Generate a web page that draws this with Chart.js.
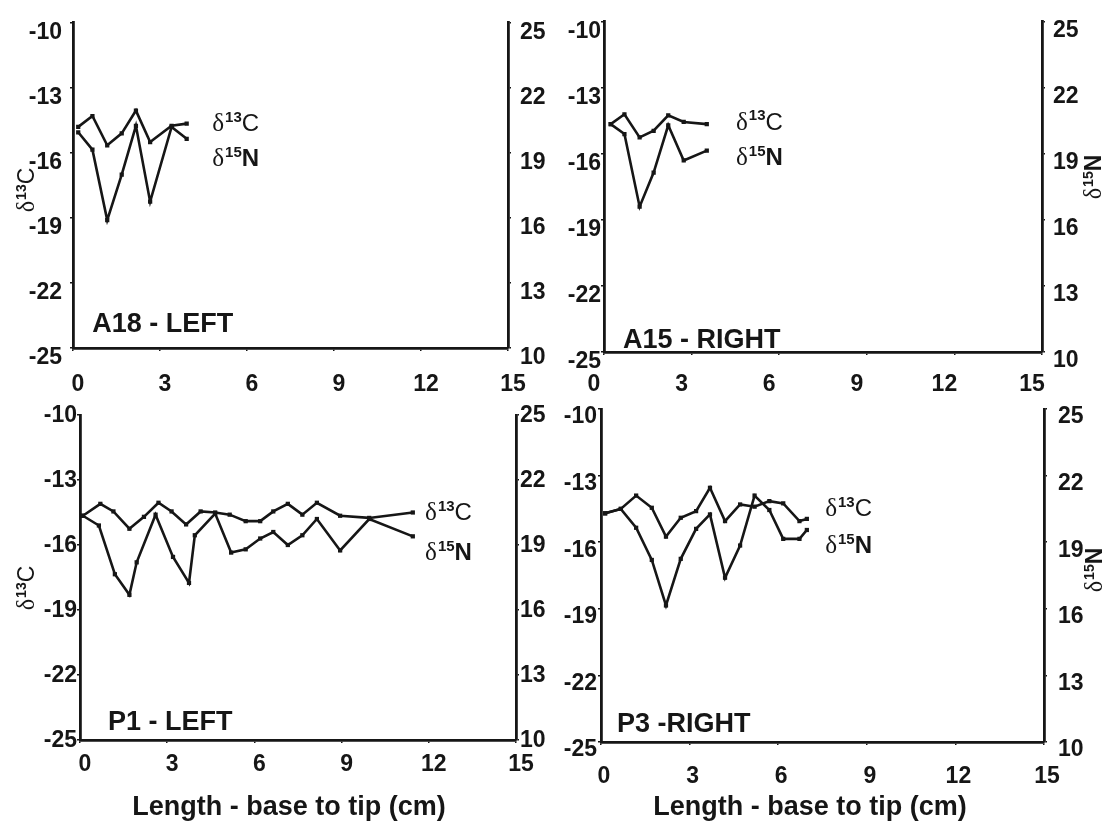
<!DOCTYPE html>
<html>
<head>
<meta charset="utf-8">
<script src="https://cdn.jsdelivr.net/npm/chart.js@4.4.0/dist/chart.umd.min.js"></script>
<style>
  html, body { margin: 0; padding: 0; background: #fff; }
  #wrap { position: relative; width: 1112px; height: 827px; overflow: hidden; }
  #wrap canvas { position: absolute; left: 0; top: 0; }
</style>
</head>
<body>
<div id="wrap">
  <canvas id="a18" width="1112" height="827"></canvas>
  <canvas id="a15" width="1112" height="827"></canvas>
  <canvas id="p1" width="1112" height="827"></canvas>
  <canvas id="p3" width="1112" height="827"></canvas>
</div>
<script>
// axis ticks
const xTicks = [0, 3, 6, 9, 12, 15];
const c13Ticks = [-25, -22, -19, -16, -13, -10];
const n15Ticks = [10, 13, 16, 19, 22, 25];

// A18 - LEFT
const a18X = [0.18, 0.67, 1.18, 1.68, 2.17, 2.66, 3.4, 3.92];
const a18C = [-14.8, -14.3, -15.65, -15.1, -14.05, -15.5, -14.75, -14.65];
const a18N = [19.95, 19.15, 15.9, 18.0, 20.25, 16.75, 20.2, 19.65];

// A15 - RIGHT
const a15X = [0.23, 0.7, 1.22, 1.7, 2.2, 2.73, 3.52];
const a15C = [-14.65, -14.2, -15.25, -14.95, -14.25, -14.55, -14.65];
const a15N = [20.35, 19.9, 16.6, 18.15, 20.3, 18.7, 19.15];

// P1 - LEFT
const p1XC = [0.1, 0.7, 1.15, 1.7, 2.2, 2.7, 3.15, 3.65, 4.15, 4.65, 5.15, 5.7, 6.2, 6.65, 7.15, 7.65, 8.15, 8.95, 9.95, 11.45];
const p1C = [-14.65, -14.1, -14.45, -15.25, -14.7, -14.05, -14.45, -15.05, -14.45, -14.5, -14.6, -14.9, -14.9, -14.45, -14.1, -14.6, -14.05, -14.65, -14.75, -14.5];
const p1XN = [0.1, 0.65, 1.2, 1.7, 1.95, 2.6, 3.2, 3.75, 3.95, 4.65, 5.2, 5.7, 6.2, 6.65, 7.15, 7.65, 8.15, 8.95, 9.95, 11.45];
const p1N = [20.35, 19.9, 17.65, 16.7, 18.2, 20.4, 18.45, 17.25, 19.45, 20.45, 18.65, 18.8, 19.3, 19.6, 19.0, 19.45, 20.2, 18.75, 20.2, 19.4];

// P3 -RIGHT
const p3X = [0.14, 0.67, 1.19, 1.72, 2.2, 2.7, 3.22, 3.69, 4.2, 4.71, 5.2, 5.7, 6.17, 6.72, 6.97];
const p3C = [-14.7, -14.5, -13.9, -14.45, -15.75, -14.9, -14.6, -13.55, -15.05, -14.3, -14.4, -14.15, -14.25, -15.05, -14.95];
const p3N = [20.3, 20.5, 19.65, 18.2, 16.15, 18.25, 19.6, 20.25, 17.4, 18.85, 21.1, 20.45, 19.15, 19.15, 19.55];

const SANS = "'Liberation Sans', Arial, sans-serif";
const SERIF = "'Liberation Serif', 'Times New Roman', serif";
const INK = '#161616';
const W = 1112, H = 827, YW = 70, XH = 60;

function pts(xs, ys) {
  return xs.map((x, i) => ({ x: x, y: ys[i] }));
}

// δ with superscript isotope number, e.g. δ13C
function deltaText(ctx, x, y, sup, letter, size, align) {
  ctx.textBaseline = 'alphabetic';
  ctx.textAlign = 'left';
  const fD = size * 1.05 + 'px ' + SERIF;
  const fS = 'bold ' + Math.round(size * 0.62) + 'px ' + SANS;
  const fL = letter === 'N' ? 'bold ' + size + 'px ' + SANS : size + 'px ' + SANS;
  ctx.font = fD; const wD = ctx.measureText('δ').width;
  ctx.font = fS; const wS = ctx.measureText(sup).width;
  ctx.font = fL; const wL = ctx.measureText(letter).width;
  const total = wD + wS + wL + 1;
  let x0 = align === 'center' ? x - total / 2 : x;
  const base = y + size * 0.36;
  ctx.font = fD; ctx.fillText('δ', x0, base);
  ctx.font = fS; ctx.fillText(sup, x0 + wD + 1, base - size * 0.38);
  ctx.font = fL; ctx.fillText(letter, x0 + wD + wS + 1, base);
}

const panelText = {
  id: 'panelText',
  afterDraw(chart, args, o) {
    const ctx = chart.ctx;
    const sx = chart.scales.x, sy = chart.scales.yC;
    ctx.save();
    ctx.fillStyle = INK;
    // series labels
    const lx = sx.getPixelForValue(o.labelX);
    deltaText(ctx, lx, sy.getPixelForValue(o.labelC), '13', 'C', 24, 'left');
    deltaText(ctx, lx, sy.getPixelForValue(o.labelN), '15', 'N', 24, 'left');
    // panel name
    ctx.font = 'bold 27px ' + SANS;
    ctx.textAlign = 'left';
    ctx.textBaseline = 'middle';
    ctx.fillText(o.name, sx.getPixelForValue(o.nameX), sy.getPixelForValue(o.nameY));
    // rotated axis titles
    o.titles.forEach(t => {
      ctx.save();
      ctx.translate(t.x, t.y);
      ctx.rotate(-Math.PI / 2);
      deltaText(ctx, 0, 0, t.sup, t.letter, 23, 'center');
      ctx.restore();
    });
    if (o.xTitle) {
      ctx.font = 'bold 27px ' + SANS;
      ctx.textAlign = 'center';
      ctx.textBaseline = 'middle';
      ctx.fillText('Length - base to tip (cm)', o.xTitle.x, o.xTitle.y);
    }
    ctx.restore();
  }
};

function yAxis(pos, min, max, ticks, p) {
  return {
    type: 'linear', position: pos, min: min, max: max,
    afterBuildTicks: s => { s.ticks = ticks.map(v => ({ value: v })); },
    afterFit: s => { s.width = YW; },
    border: { color: INK, width: 2.8 },
    grid: { drawOnChartArea: false, tickLength: 3, color: INK, lineWidth: 1.5 },
    ticks: { color: INK, font: { family: SANS, size: 23, weight: 'bold' }, padding: p.pad, labelOffset: p.off }
  };
}

function makePanel(id, p) {
  const line = {
    borderColor: INK, borderWidth: 2.6, tension: 0,
    pointStyle: 'rect', pointRadius: 3, pointBorderWidth: 0,
    pointBackgroundColor: INK, fill: false
  };
  return new Chart(document.getElementById(id), {
    type: 'line',
    data: {
      datasets: [
        Object.assign({ label: 'δ13C', data: pts(p.xc, p.c), yAxisID: 'yC' }, line),
        Object.assign({ label: 'δ15N', data: pts(p.xn, p.n), yAxisID: 'yN' }, line)
      ]
    },
    options: {
      responsive: false,
      animation: false,
      events: [],
      layout: {
        autoPadding: false,
        padding: { left: p.area.L - YW, right: W - p.area.R - YW, top: p.area.T, bottom: H - p.area.B - XH }
      },
      plugins: {
        legend: { display: false },
        tooltip: { enabled: false },
        panelText: p.text
      },
      scales: {
        x: {
          type: 'linear', min: 0, max: 15,
          afterBuildTicks: s => { s.ticks = xTicks.map(v => ({ value: v })); },
          afterFit: s => { s.height = XH; },
          border: { color: INK, width: 2.8 },
          grid: { drawOnChartArea: false, tickLength: 3, color: INK, lineWidth: 1.5 },
          ticks: { color: INK, font: { family: SANS, size: 23, weight: 'bold' }, padding: p.xPad, labelOffset: p.xOff, maxRotation: 0, autoSkip: false }
        },
        yC: yAxis('left', -25, -10, c13Ticks, p.yl),
        yN: yAxis('right', 10, 25, n15Ticks, p.yr)
      }
    },
    plugins: [panelText]
  });
}

makePanel('a18', {
  xc: a18X, c: a18C, xn: a18X, n: a18N,
  area: { L: 73, T: 15, R: 508, B: 348 },
  xPad: 20, xOff: 5,
  yl: { pad: 8, off: 10 }, yr: { pad: 9, off: 10 },
  text: {
    labelX: 4.8, labelC: -14.6, labelN: -16.2,
    name: 'A18 - LEFT', nameX: 0.66, nameY: -23.9,
    titles: [{ x: 26, y: 190, sup: '13', letter: 'C' }]
  }
});

makePanel('a15', {
  xc: a15X, c: a15C, xn: a15X, n: a15N,
  area: { L: 604, T: 17, R: 1042, B: 352 },
  xPad: 16, xOff: -10,
  yl: { pad: 0, off: 10 }, yr: { pad: 8, off: 9 },
  text: {
    labelX: 4.52, labelC: -14.5, labelN: -16.1,
    name: 'A15 - RIGHT', nameX: 0.65, nameY: -24.5,
    titles: [{ x: 1093, y: 177, sup: '15', letter: 'N' }]
  }
});

makePanel('p1', {
  xc: p1XC, c: p1C, xn: p1XN, n: p1N,
  area: { L: 80, T: 415, R: 516, B: 740 },
  xPad: 8, xOff: 5,
  yl: { pad: 0, off: 1 }, yr: { pad: 1, off: 1 },
  text: {
    labelX: 11.87, labelC: -14.45, labelN: -16.3,
    name: 'P1 - LEFT', nameX: 0.96, nameY: -24.2,
    titles: [{ x: 26, y: 588, sup: '13', letter: 'C' }],
    xTitle: { x: 289, y: 808 }
  }
});

makePanel('p3', {
  xc: p3X, c: p3C, xn: p3X, n: p3N,
  area: { L: 601, T: 409, R: 1044, B: 742 },
  xPad: 18, xOff: 3,
  yl: { pad: 1, off: 8 }, yr: { pad: 11, off: 8 },
  text: {
    labelX: 7.59, labelC: -14.45, labelN: -16.1,
    name: 'P3 -RIGHT', nameX: 0.54, nameY: -24.2,
    titles: [{ x: 1094, y: 570, sup: '15', letter: 'N' }],
    xTitle: { x: 810, y: 808 }
  }
});
</script>
</body>
</html>
